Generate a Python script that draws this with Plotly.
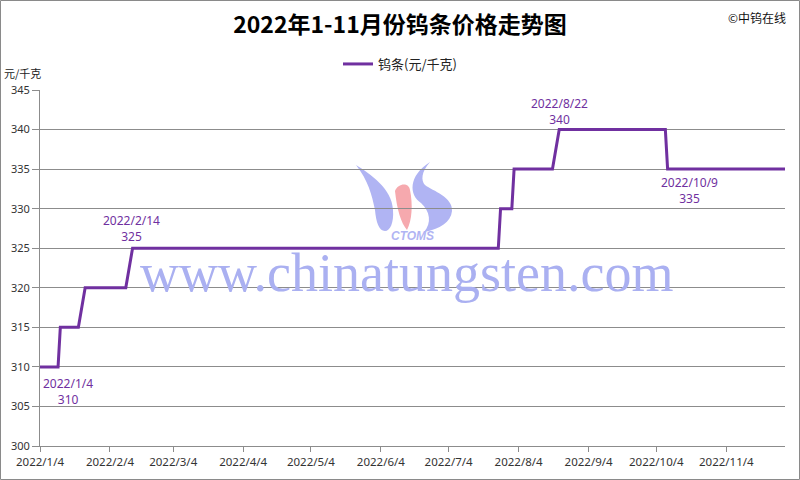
import plotly.graph_objects as go

# ---- data (step change points) ----
dates = ["2022-01-04", "2022-01-12", "2022-01-13", "2022-01-21", "2022-01-24",
         "2022-02-11", "2022-02-14", "2022-07-26", "2022-07-27", "2022-08-01",
         "2022-08-02", "2022-08-19", "2022-08-22", "2022-10-08", "2022-10-09",
         "2022-11-30"]
prices = [310, 310, 315, 315, 320, 320, 325, 325, 330, 330,
          335, 335, 340, 340, 335, 335]

label_dates = ["2022-01-04", "2022-02-14", "2022-08-22", "2022-10-09"]
label_values = [310, 325, 340, 335]
label_texts = ["2022/1/4", "2022/2/14", "2022/8/22", "2022/10/9"]

tick_vals = ["2022-01-04", "2022-02-04", "2022-03-04", "2022-04-04", "2022-05-04",
             "2022-06-04", "2022-07-04", "2022-08-04", "2022-09-04", "2022-10-04",
             "2022-11-04"]
tick_text = ["2022/1/4", "2022/2/4", "2022/3/4", "2022/4/4", "2022/5/4",
             "2022/6/4", "2022/7/4", "2022/8/4", "2022/9/4", "2022/10/4",
             "2022/11/4"]

series_name = "钨条(元/千克)"
title_text = "2022年1-11月份钨条价格走势图"

PURPLE = "#7030A0"
GRID = "#8c8c8c"
CJK = "Noto Sans CJK SC"

# ---- layout geometry (pixels) ----
FW, FH = 800, 480
L, R, T, B = 40, 15, 90, 34
W = FW - L - R
H = FH - T - B


def px(x):
    return (x - L) / W


def py(y):
    return (T + H - y) / H


def path(cmds):
    out = []
    for c in cmds:
        if isinstance(c, str):
            out.append(c)
        else:
            out.append(f"{px(c[0]):.5f},{py(c[1]):.5f}")
    return " ".join(out)


fig = go.Figure()
fig.add_trace(go.Scatter(
    x=dates, y=prices, mode="lines", name=series_name,
    line=dict(color=PURPLE, width=3), showlegend=True,
))

# data labels
label_shifts = [(28, -25), (-1, 20), (0, 18), (22, -21)]
for d, v, t, (dx, dy) in zip(label_dates, label_values, label_texts, label_shifts):
    fig.add_annotation(
        x=d, y=v, xref="x", yref="y", text=f"{t}<br>{v}", showarrow=False,
        xshift=dx, yshift=dy, align="center", xanchor="center", yanchor="middle",
        font=dict(family="Noto Sans", size=12, color=PURPLE),
    )

# watermark logo (shapes, beneath grid)
shapes = []
BLUE_WM = "#b0b4f3"
PINK_WM = "#f6a9ae"
shapes.append(dict(type="path", xref="paper", yref="paper", layer="below",
                   fillcolor=BLUE_WM, line=dict(width=0),
                   path=path(["M", (356, 165), "C", (370, 174), (392, 188), (393, 210),
                              "C", (394, 223), (390, 231), (385, 231),
                              "C", (379, 231), (376, 222), (375, 210),
                              "C", (372, 195), (368, 180), (356, 165), "Z"])))
shapes.append(dict(type="path", xref="paper", yref="paper", layer="below",
                   fillcolor=PINK_WM, line=dict(width=0),
                   path=path(["M", (395, 191), "C", (398, 183), (409, 182), (410, 190),
                              "C", (413, 205), (412, 220), (407, 230),
                              "C", (401, 223), (397, 210), (395, 191), "Z"])))
shapes.append(dict(type="path", xref="paper", yref="paper", layer="below",
                   fillcolor=BLUE_WM, line=dict(width=0),
                   path=path(["M", (430, 162), "C", (421, 172), (421, 181), (425, 185),
                              "C", (433, 191), (453, 197), (452, 211),
                              "C", (451, 222), (440, 229), (424, 232),
                              "C", (432, 223), (430, 211), (421, 203),
                              "C", (409, 195), (408, 176), (430, 162), "Z"])))
# outer frame
shapes.append(dict(type="rect", xref="paper", yref="paper", layer="above",
                   x0=px(0.5), x1=px(FW - 0.5), y0=py(FH - 0.5), y1=py(0.5),
                   line=dict(color="#8a8a8a", width=1), fillcolor="rgba(0,0,0,0)"))

fig.add_annotation(x=px(412), y=py(236), xref="paper", yref="paper",
                   xanchor="center", yanchor="middle",
                   text="<b><i>CTOMS</i></b>", showarrow=False,
                   font=dict(family="Liberation Sans", size=12, color=BLUE_WM))
fig.add_annotation(x=px(138), y=py(273), xref="paper", yref="paper",
                   xanchor="left", yanchor="middle",
                   text="www.chinatungsten.com", showarrow=False,
                   font=dict(family="Liberation Serif", size=54, color="#aab0f1"))

# corner texts
fig.add_annotation(x=px(22), y=py(73), xref="paper", yref="paper",
                   xanchor="center", yanchor="middle",
                   text="元/千克", showarrow=False,
                   font=dict(family=CJK, size=11, color="#222"))
fig.add_annotation(x=px(757), y=py(17), xref="paper", yref="paper",
                   xanchor="center", yanchor="middle",
                   text="©中钨在线", showarrow=False,
                   font=dict(family=CJK, size=12, color="#111"))

fig.update_layout(
    width=FW, height=FH,
    margin=dict(l=L, r=R, t=T, b=B, pad=0),
    paper_bgcolor="white", plot_bgcolor="white",
    title=dict(text=f"<b>{title_text}</b>", x=0.5, xanchor="center",
               y=1 - 25 / FH, yanchor="middle",
               font=dict(family=CJK, size=23, color="#000")),
    showlegend=True,
    legend=dict(orientation="h", x=px(338), xanchor="left",
                y=py(64), yanchor="middle", bgcolor="rgba(0,0,0,0)",
                font=dict(family=CJK, size=13, color="#222"), itemwidth=30),
    shapes=shapes,
    xaxis=dict(type="date", range=["2022-01-04", "2022-11-30"],
               tickmode="array", tickvals=tick_vals, ticktext=tick_text,
               showgrid=False, zeroline=False, showline=True, linecolor=GRID,
               linewidth=1, ticks="outside", ticklen=5, tickcolor=GRID,
               tickfont=dict(family="Noto Sans", size=11.5, color="#333")),
    yaxis=dict(range=[300, 345], tickmode="linear", tick0=300, dtick=5,
               showgrid=True, gridcolor=GRID, gridwidth=1, zeroline=False,
               showline=True, linecolor=GRID, linewidth=1,
               ticks="outside", ticklen=7, tickcolor=GRID,
               tickfont=dict(family="Noto Sans", size=11, color="#333")),
)

fig.write_html("out.html",
               config={"displayModeBar": False},
               post_script="document.body.style.margin='0';document.body.style.overflow='hidden';")
